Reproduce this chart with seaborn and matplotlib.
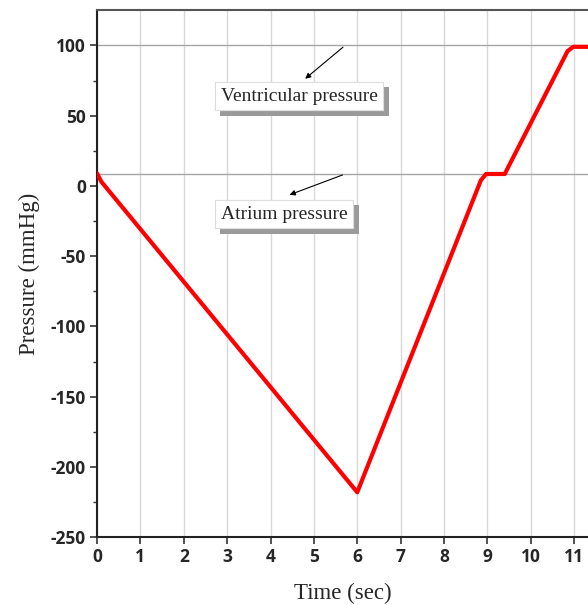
import pandas as pd
import matplotlib.pyplot as plt
import matplotlib.patheffects as pe
import seaborn as sns

# values
time_sec = [0.0, 0.1, 6.0, 8.85, 8.97, 9.4, 10.85, 10.98, 11.4]
pressure = [9, 3, -218, 4, 8.5, 8.5, 96, 99, 99]
atrium_level = 8.5
ventricle_level = 100
x_ticks = list(range(0, 12))
y_ticks = list(range(-250, 101, 50))

data = pd.DataFrame({'Time': time_sec, 'Pressure': pressure})

sns.set_style('white')
plt.rcParams['font.family'] = ['Open Sans', 'DejaVu Sans']
plt.rcParams['axes.unicode_minus'] = False

fig = plt.figure(figsize=(5.88, 6.05), dpi=100)
ax = fig.add_axes([0.165, 0.112, 0.835, 0.871])

for x in x_ticks:
    ax.axvline(x, color='#d9d9d9', lw=1, zorder=0)
ax.axhline(ventricle_level, color='#a6a6a6', lw=1, zorder=1)
ax.axhline(atrium_level, color='#a6a6a6', lw=1, zorder=1)

sns.lineplot(data=data, x='Time', y='Pressure', color='red', lw=3, ax=ax, zorder=3)

ax.set_xlim(0, 11.32)
ax.set_ylim(-250, 125)
ax.set_xticks(x_ticks)
ax.set_yticks(y_ticks)
ax.set_yticks(range(-225, 125, 50), minor=True)
ax.tick_params(axis='both', which='major', direction='out', length=5, width=1.2,
               labelsize=12.5, left=True, bottom=True, color='#333333', pad=3)
ax.tick_params(axis='y', which='minor', direction='out', length=3, width=1, left=True, color='#333333')
for lab in ax.get_xticklabels() + ax.get_yticklabels():
    lab.set_fontweight('bold')

for side in ['left', 'bottom']:
    ax.spines[side].set_color('#222222')
    ax.spines[side].set_linewidth(1.5)
ax.spines['top'].set_color('#555555')
ax.spines['top'].set_linewidth(1.5)
ax.spines['right'].set_visible(False)

ax.set_xlabel('Time (sec)', family='Liberation Serif', fontsize=16.5, labelpad=12)
ax.set_ylabel('Pressure (mmHg)', family='Liberation Serif', fontsize=16.5, labelpad=8)

box = dict(boxstyle='square,pad=0.3', fc='white', ec='#dddddd', lw=0.8)
shadow = [pe.withSimplePatchShadow(offset=(4, -4), shadow_rgbFace='#9a9a9a', alpha=1.0), pe.Normal()]

t1 = ax.text(2.85, 64, 'Ventricular pressure', family='Liberation Serif', fontsize=14,
             va='center', ha='left', bbox=box, zorder=5)
t1.get_bbox_patch().set_path_effects(shadow)
ax.annotate('', xy=(4.75, 75), xytext=(5.72, 100),
            arrowprops=dict(arrowstyle='-|>', color='black', lw=0.8, mutation_scale=8), zorder=5)

t2 = ax.text(2.85, -20, 'Atrium pressure', family='Liberation Serif', fontsize=14,
             va='center', ha='left', bbox=box, zorder=5)
t2.get_bbox_patch().set_path_effects(shadow)
ax.annotate('', xy=(4.38, -7), xytext=(5.72, 8.5),
            arrowprops=dict(arrowstyle='-|>', color='black', lw=0.8, mutation_scale=8), zorder=5)

plt.savefig('out.png', dpi=100)
